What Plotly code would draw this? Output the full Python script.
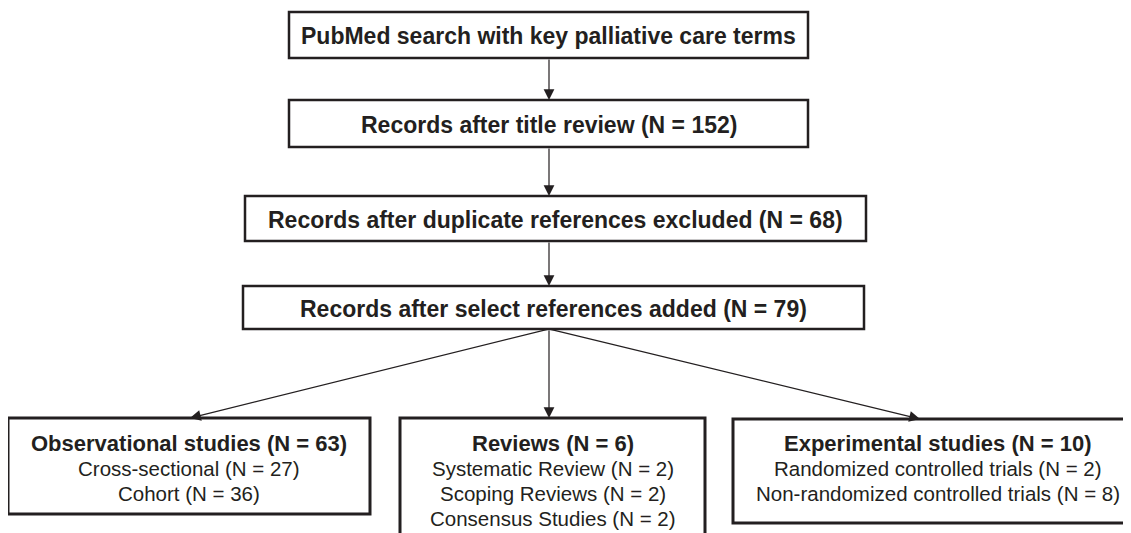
import plotly.graph_objects as go

# ---- data (text content) ----
top_labels = [
    "PubMed search with key palliative care terms",
    "Records after title review (N = 152)",
    "Records after duplicate references excluded (N = 68)",
    "Records after select references added (N = 79)",
]
group_titles = ["Observational studies (N = 63)", "Reviews (N = 6)", "Experimental studies (N = 10)"]
group_items = [
    ["Cross-sectional (N = 27)", "Cohort (N = 36)"],
    ["Systematic Review (N = 2)", "Scoping Reviews (N = 2)", "Consensus Studies (N = 2)"],
    ["Randomized controlled trials (N = 2)", "Non-randomized controlled trials (N = 8)"],
]

# ---- layout geometry (screen pixels of the reference) ----
W, H = 1131, 533
OFF = 8  # default page body margin
top_boxes = [(289, 808, 12, 58), (289, 808, 100, 147), (245, 866, 196, 241), (243, 864, 286, 329)]
bottom_boxes = [(8, 370, 418, 514), (400, 705, 418, 560), (733, 1130, 419, 523)]
bottom_text_cx = [189, 553, 938]
arrow_x = 549
branch_tips = [190, 549, 920]
title_y = 443
line_step = 25.3

INK = "#231f20"
FONT = "Liberation Sans, Arial, sans-serif"

fig = go.Figure()
fig.add_trace(go.Scatter(x=[OFF, W + OFF], y=[OFF, H + OFF], mode="markers", marker=dict(opacity=0),
                         hoverinfo="skip", showlegend=False))

shapes = []
annotations = []
for (x0, x1, y0, y1), label in zip(top_boxes, top_labels):
    shapes.append(dict(type="rect", x0=x0, x1=x1, y0=y0, y1=y1, xref="x", yref="y",
                       line=dict(color=INK, width=2.5), fillcolor="white", layer="below"))
    annotations.append(dict(x=(x0 + x1) / 2, y=(y0 + y1) / 2 + 1, xref="x", yref="y", text="<b>" + label + "</b>",
                            showarrow=False, font=dict(family=FONT, size=23, color=INK), xanchor="center", yanchor="middle"))

# vertical arrows between top boxes
for i in range(len(top_boxes) - 1):
    y_start = top_boxes[i][3]
    y_end = top_boxes[i + 1][2]
    annotations.append(dict(x=arrow_x, y=y_end, ax=arrow_x, ay=y_start, xref="x", yref="y", axref="x", ayref="y",
                            text="", showarrow=True, arrowhead=2, arrowsize=1.8, arrowwidth=1.2, arrowcolor=INK))

# branch arrows
for (bx0, bx1, by0, by1), tip in zip(bottom_boxes, branch_tips):
    annotations.append(dict(x=tip, y=by0, ax=arrow_x, ay=top_boxes[-1][3], xref="x", yref="y", axref="x", ayref="y",
                            text="", showarrow=True, arrowhead=2, arrowsize=1.8, arrowwidth=1.2, arrowcolor=INK))

for (x0, x1, y0, y1), cx, title, items in zip(bottom_boxes, bottom_text_cx, group_titles, group_items):
    shapes.append(dict(type="rect", x0=x0, x1=x1, y0=y0, y1=y1, xref="x", yref="y",
                       line=dict(color=INK, width=3), fillcolor="white", layer="below"))
    annotations.append(dict(x=cx, y=title_y, xref="x", yref="y", text="<b>" + title + "</b>", showarrow=False,
                            font=dict(family=FONT, size=22, color=INK), xanchor="center", yanchor="middle"))
    for k, it in enumerate(items):
        annotations.append(dict(x=cx, y=title_y + (k + 1) * line_step, xref="x", yref="y", text=it, showarrow=False,
                                font=dict(family=FONT, size=20.5, color=INK), xanchor="center", yanchor="middle"))

fig.update_layout(
    width=W, height=H,
    margin=dict(l=0, r=0, t=0, b=0),
    paper_bgcolor="white", plot_bgcolor="white",
    xaxis=dict(range=[OFF, W + OFF], visible=False, fixedrange=True),
    yaxis=dict(range=[H + OFF, OFF], visible=False, fixedrange=True),
    shapes=shapes, annotations=annotations, showlegend=False,
)
fig.write_html("out.html")
